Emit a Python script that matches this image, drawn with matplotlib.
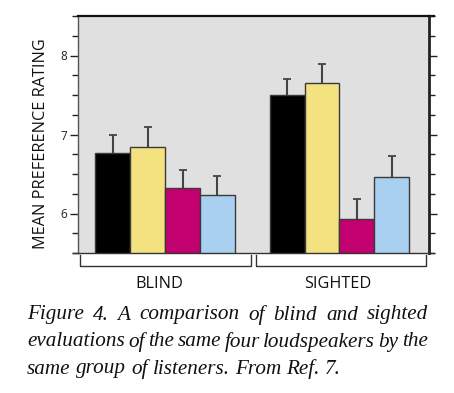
import matplotlib
matplotlib.use("Agg")
import matplotlib.pyplot as plt
from matplotlib.ticker import MultipleLocator

groups = ["BLIND", "SIGHTED"]
speaker_colors = ["#000000", "#F4E17F", "#C2006F", "#A9CFF1"]
blind_means = [6.76, 6.84, 6.32, 6.23]
blind_err = [0.24, 0.25, 0.23, 0.25]
sighted_means = [7.50, 7.65, 5.93, 6.46]
sighted_err = [0.20, 0.24, 0.25, 0.27]

caption_lines = [
    "Figure 4. A comparison of blind and sighted",
    "evaluations of the same four loudspeakers by the",
    "same group of listeners. From Ref. 7.",
]

W, H = 454, 393
fig = plt.figure(figsize=(W / 100, H / 100), dpi=100)
ax = fig.add_axes([78 / W, 1 - 253 / H, (429 - 78) / W, (253 - 16) / H])
ax.set_facecolor("#E0E0E0")

edge = "#3a3a3a"
for g, (means, errs) in enumerate([(blind_means, blind_err), (sighted_means, sighted_err)]):
    xs = [g * 5 + i for i in range(4)]
    ax.bar(xs, means, width=1.0, bottom=0, color=speaker_colors,
           edgecolor=edge, linewidth=1.0, zorder=2)
    eb = ax.errorbar(xs, means, yerr=[[0] * 4, errs], fmt="none", ecolor="#444444",
                     elinewidth=1.5, capsize=2.8, capthick=1.3, zorder=1)
    eb[1][0].remove()  # no lower caps

ax.set_xlim(-1.0, 9.07)
ax.set_ylim(5.5, 8.5)
ax.set_xticks([])
ax.yaxis.set_major_locator(MultipleLocator(1))
ax.yaxis.set_minor_locator(MultipleLocator(0.25))
ax.tick_params(axis="y", which="both", direction="out", left=True, right=True,
               labelsize=8.5, colors="#222222", pad=2)
ax.tick_params(axis="y", which="major", length=6, width=1)
ax.tick_params(axis="y", which="minor", length=4, width=1)
ax.set_yticks([6, 7, 8])
for lab in ax.get_yticklabels():
    lab.set_family("Open Sans")

ax.spines["left"].set_color("#555555")
ax.spines["left"].set_linewidth(1)
ax.spines["right"].set_color("#222222")
ax.spines["right"].set_linewidth(2)
ax.spines["top"].set_color("#111111")
ax.spines["top"].set_linewidth(1.6)
ax.spines["bottom"].set_color("#333333")
ax.spines["bottom"].set_linewidth(1)

# spine overhangs
ax.plot([1.0, 1.015], [1, 1], transform=ax.transAxes, color="#111111", lw=1.6, clip_on=False)
ax.plot([-0.015, 0], [0, 0], transform=ax.transAxes, color="#333333", lw=1, clip_on=False)
ax.plot([1.0, 1.015], [0, 0], transform=ax.transAxes, color="#333333", lw=1, clip_on=False)

ax.set_ylabel("MEAN PREFERENCE RATING", family="Open Sans", fontsize=11.7, color="#111111")
ax.yaxis.set_label_coords(-0.083, 0.46)

# group brackets
bracket_spans = [(-0.93, 3.96), (4.1, 8.99)]
label_x = [1.32, 6.46]
for (x0, x1), lx, name in zip(bracket_spans, label_x, groups):
    ax.plot([x0, x0, x1, x1], [5.47, 5.34, 5.34, 5.47], color="#333333", lw=1,
            clip_on=False)
    ax.text(lx, 5.11, name, ha="center", va="center", family="Open Sans",
            fontsize=11.7, color="#111111")

# caption, justified
fig.canvas.draw()
renderer = fig.canvas.get_renderer()
left_px, right_px = 27, 428
line_y = [315, 342, 369]
cap_kw = dict(family="Liberation Serif", style="italic", fontsize=15.2, color="#111111",
              va="center", ha="left")
for n, (line, y) in enumerate(zip(caption_lines, line_y)):
    words = line.split(" ")
    texts = [fig.text(0, 1 - y / H, w, **cap_kw) for w in words]
    widths = [t.get_window_extent(renderer).width for t in texts]
    if n < len(caption_lines) - 1:
        gap = (right_px - left_px - sum(widths)) / (len(words) - 1)
    else:
        space = fig.text(0, 0, "a a", **cap_kw)
        one = fig.text(0, 0, "aa", **cap_kw)
        gap = space.get_window_extent(renderer).width - one.get_window_extent(renderer).width
        space.remove()
        one.remove()
    x = left_px
    for t, w in zip(texts, widths):
        t.set_x(x / W)
        x += w + gap

fig.savefig("out.png", dpi=100)
